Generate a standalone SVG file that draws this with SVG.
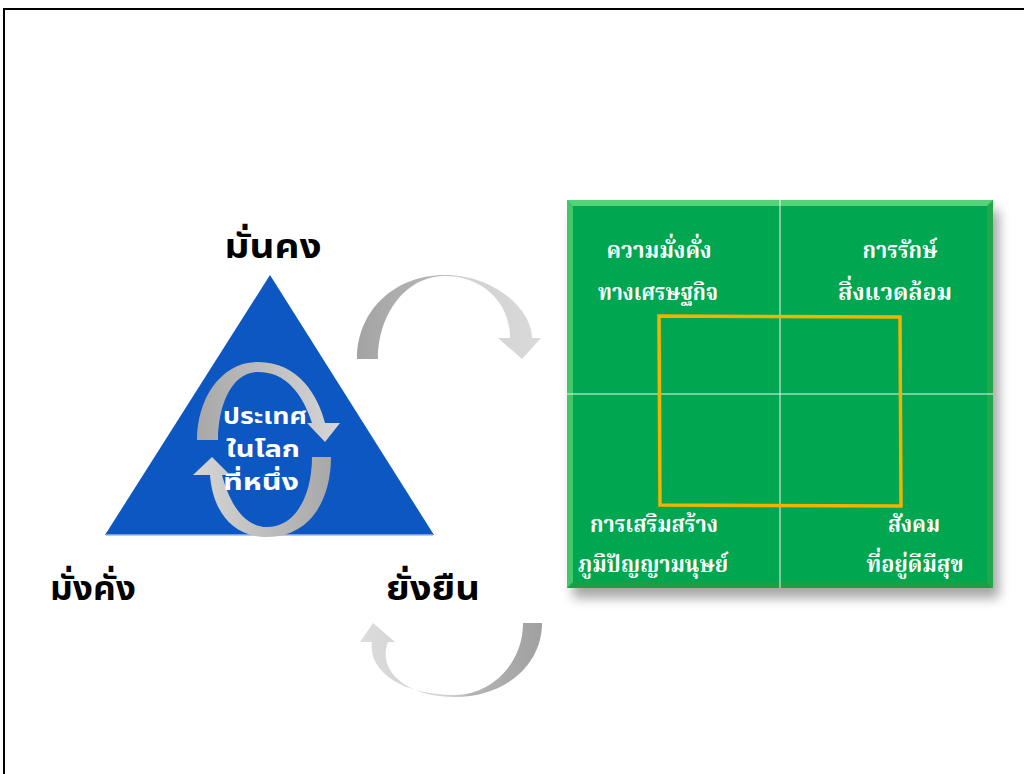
<svg xmlns="http://www.w3.org/2000/svg" width="1024" height="774" viewBox="0 0 1024 774">
<style>
.lbl{font-family:"Noto Sans Thai","Noto Sans","DejaVu Sans",sans-serif;font-weight:bold;fill:#000;font-size:34px;text-anchor:middle}
.inner{font-family:"Noto Sans Thai","Noto Sans","DejaVu Sans",sans-serif;font-weight:bold;fill:#fff;font-size:23px;text-anchor:middle}
.gt{font-family:"Noto Serif Thai","Liberation Serif","Noto Sans Thai",serif;font-weight:bold;fill:#fff;font-size:23px;text-anchor:middle}
</style>
<defs>
<linearGradient id="gTop" x1="0" y1="0" x2="1" y2="0"><stop offset="0" stop-color="#A3A3A3"/><stop offset="0.45" stop-color="#B8B8B8"/><stop offset="0.55" stop-color="#D0D0D0"/><stop offset="1" stop-color="#DADADA"/></linearGradient>
<linearGradient id="gBot" x1="0" y1="0" x2="1" y2="0"><stop offset="0" stop-color="#DCDCDC"/><stop offset="0.5" stop-color="#CFCFCF"/><stop offset="0.6" stop-color="#B5B5B5"/><stop offset="1" stop-color="#A0A0A0"/></linearGradient>
<linearGradient id="gIn1" x1="0" y1="0" x2="1" y2="0"><stop offset="0" stop-color="#A8A8A8"/><stop offset="1" stop-color="#D6D6D6"/></linearGradient>
<linearGradient id="gIn2" x1="0" y1="0" x2="1" y2="0"><stop offset="0" stop-color="#D6D6D6"/><stop offset="1" stop-color="#A8A8A8"/></linearGradient>
<filter id="sh" x="-10%" y="-10%" width="125%" height="125%"><feGaussianBlur stdDeviation="6"/></filter>
</defs>
<rect width="1024" height="774" fill="#fff"/>
<path d="M4,774 V9 H1024" fill="none" stroke="#000" stroke-width="2"/>

<g id="triangle">
<polygon points="270,275 105,535 434,535" fill="#0D57C3"/>
<line x1="106" y1="535" x2="433" y2="535" stroke="#9DB9E6" stroke-width="1.5"/>
</g>

<g id="cycle">
<path d="M197,440 C197,400 220,362 258,362 C298,362 318,395 325,423 L340,423 L325,442 L307,423 L312,423 C302,392 285,372 258,372 C232,372 218,405 218,440 Z" fill="url(#gIn1)"/>
<path d="M331,457 C331,500 310,537 267,537 C228,537 212,505 210,475 L193,475 L212,457 L230,475 L222,475 C230,505 245,527 267,527 C296,527 312,495 312,457 Z" fill="url(#gIn2)"/>
<text class="inner" x="265" y="424" textLength="84" lengthAdjust="spacingAndGlyphs">ประเทศ</text>
<text class="inner" x="263" y="457" textLength="74" lengthAdjust="spacingAndGlyphs">ในโลก</text>
<text class="inner" x="261" y="490" textLength="76" lengthAdjust="spacingAndGlyphs">ที่หนึ่ง</text>
</g>

<g id="label-stable"><text class="lbl" x="273" y="258" textLength="97" lengthAdjust="spacingAndGlyphs">มั่นคง</text></g>
<g id="label-wealth"><text class="lbl" x="93" y="600" textLength="86" lengthAdjust="spacingAndGlyphs">มั่งคั่ง</text></g>
<g id="label-sustain"><text class="lbl" x="433" y="600" textLength="94" lengthAdjust="spacingAndGlyphs">ยั่งยืน</text></g>

<g id="connectors">
<path d="M357,359 C357,310 395,275 445,275 C495,275 532,310 532,338 L541,338 L522,359 L498,338 L510,338 C510,300 480,276 445,276 C405,276 378,315 378,359 Z" fill="url(#gTop)"/>
<path d="M542,623 C542,665 505,697 455,697 C405,697 377,670 388,642 L395,642 L373,623 L360,642 L372,642 C368,670 400,695 455,695 C490,695 523,665 523,623 Z" fill="url(#gBot)"/>
</g>

<g id="matrix">
<rect x="573" y="210" width="426" height="388" fill="#000" opacity="0.35" filter="url(#sh)"/>
<rect x="567" y="200" width="426" height="388" fill="#35C45E"/>
<polygon points="567,200 993,200 987,206 573,206" fill="#55D27A"/>
<polygon points="567,200 573,206 573,582 567,588" fill="#3FC768"/>
<polygon points="993,200 993,588 987,582 987,206" fill="#22A84A"/>
<polygon points="567,588 993,588 987,582 573,582" fill="#1C9E44"/>
<rect x="573" y="206" width="414" height="376" fill="#00A650"/>
<line x1="780" y1="200" x2="780" y2="588" stroke="#E8F5EC" stroke-width="1"/>
<line x1="567" y1="394" x2="993" y2="394" stroke="#E8F5EC" stroke-width="1"/>
<polygon points="659,316 900,317 901,506 660,505" fill="none" stroke="#F0B400" stroke-width="3.5"/>
<text class="gt" x="659" y="258" textLength="105" lengthAdjust="spacingAndGlyphs">ความมั่งคั่ง</text>
<text class="gt" x="658" y="300" textLength="120" lengthAdjust="spacingAndGlyphs">ทางเศรษฐกิจ</text>
<text class="gt" x="900" y="258" textLength="75" lengthAdjust="spacingAndGlyphs">การรักษ์</text>
<text class="gt" x="895" y="300" textLength="114" lengthAdjust="spacingAndGlyphs">สิ่งแวดล้อม</text>
<text class="gt" x="654" y="532" textLength="128" lengthAdjust="spacingAndGlyphs">การเสริมสร้าง</text>
<text class="gt" x="653" y="572" textLength="150" lengthAdjust="spacingAndGlyphs">ภูมิปัญญามนุษย์</text>
<text class="gt" x="914" y="532" textLength="52" lengthAdjust="spacingAndGlyphs">สังคม</text>
<text class="gt" x="915" y="572" textLength="97" lengthAdjust="spacingAndGlyphs">ที่อยู่ดีมีสุข</text>
</g>
</svg>
